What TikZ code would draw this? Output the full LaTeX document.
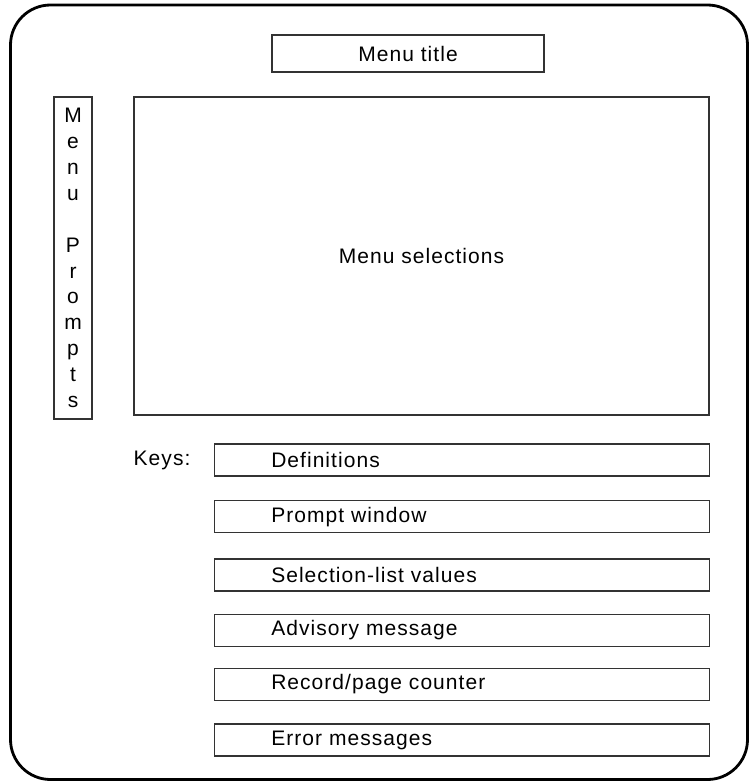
\documentclass[tikz,border=0pt]{standalone}
\usepackage{fontspec}
\setmainfont[LetterSpace=5]{Liberation Sans}
\tikzset{
  frame/.style={draw=black, line width=2.8pt, rounded corners=40pt},
  box/.style={draw=black!80, line width=1.1pt, inner sep=0pt},
  keybox/.style={box, minimum height=32pt, text width=381pt, inner xsep=57pt, align=left},
  lbl/.style={inner sep=0pt},
}
\begin{document}
\begin{tikzpicture}[x=1pt,y=-1pt, font=\fontsize{21}{25.9}\selectfont]
\useasboundingbox (0,0) rectangle (749,781);
\draw[frame] (10.5,5) rectangle (747.5,779.5);
\node[box, minimum width=272pt, minimum height=37pt] (title) at (408,53.5) {Menu title};
\node[box, minimum width=38pt, minimum height=322pt, align=center] (prompts) at (73,258)
  {M\\e\\n\\u\\\mbox{}\\P\\r\\o\\m\\p\\t\\s};
\node[box, minimum width=575pt, minimum height=318pt] (sel) at (421.5,256) {Menu selections\hspace{7pt}};
\node[keybox] (k1) at (461.75,460) {Definitions};
\node[keybox] (k2) at (461.75,516.7) {Prompt window};
\node[keybox] (k3) at (461.75,575) {Selection-list values};
\node[keybox] (k4) at (461.75,630.5) {Advisory message};
\node[keybox] (k5) at (461.75,684.5) {Record/page counter};
\node[keybox] (k6) at (461.75,740) {Error messages};
\node[lbl, anchor=west] (keys) at (133.5,460) {Keys:};
\end{tikzpicture}
\end{document}
